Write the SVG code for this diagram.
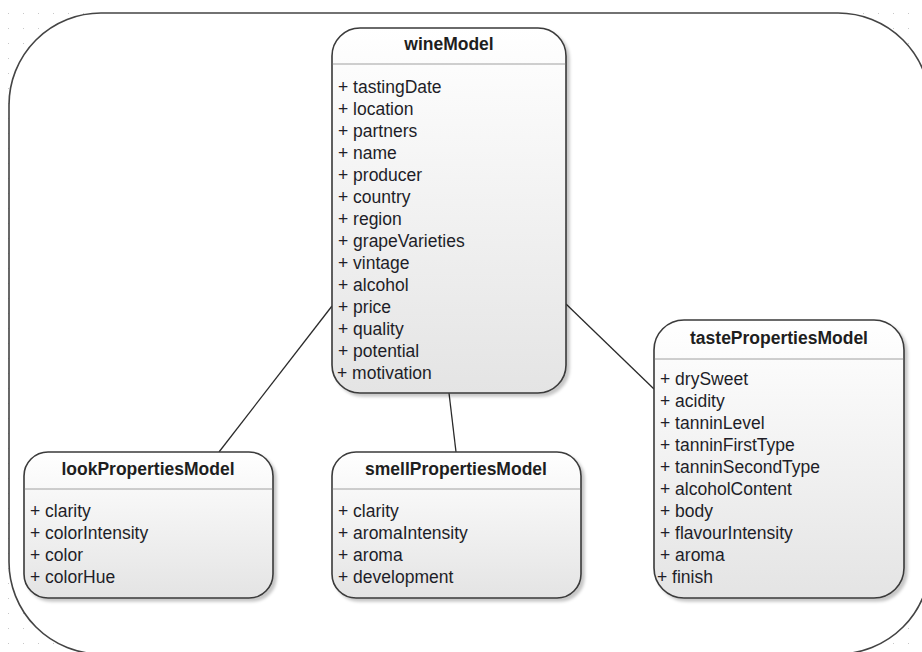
<svg xmlns="http://www.w3.org/2000/svg" width="922" height="652" viewBox="0 0 922 652">
  <defs>
    <pattern id="dots" x="8" y="13" width="15" height="15" patternUnits="userSpaceOnUse">
      <rect x="0" y="0" width="1" height="1" fill="#c8c8c8"/>
    </pattern>
    <linearGradient id="nodeFill" x1="0" y1="0" x2="0" y2="1">
      <stop offset="0" stop-color="#ffffff"/>
      <stop offset="1" stop-color="#e4e4e4"/>
    </linearGradient>
    <filter id="shadow" x="-10%" y="-10%" width="130%" height="130%">
      <feDropShadow dx="3" dy="3" stdDeviation="1.5" flood-color="#000" flood-opacity="0.22"/>
    </filter>
  </defs>
  <style>
    .box { fill: url(#nodeFill); stroke: #3a3a3a; stroke-width: 1.6; filter: url(#shadow); }
    .sep { stroke: #a0a0a0; stroke-width: 1; }
    .title { font-family: "Liberation Sans", Arial, sans-serif; font-size: 17.5px; font-weight: bold; fill: #1e1e1e; text-anchor: middle; }
    .attr { font-family: "Liberation Sans", Arial, sans-serif; font-size: 17.5px; fill: #1e1e28; }
    .conn { stroke: #2a2a2a; stroke-width: 1.3; fill: none; }
  </style>

  <rect x="0" y="0" width="922" height="652" fill="#ffffff"/>
  <rect x="0" y="0" width="922" height="652" fill="url(#dots)"/>
  <rect id="container" x="9" y="13" width="921" height="641" rx="92" ry="92" fill="#ffffff" stroke="#444" stroke-width="1.6"/>

  <g id="connectors">
    <line class="conn" x1="332" y1="306" x2="219" y2="452"/>
    <line class="conn" x1="449" y1="393" x2="456" y2="452"/>
    <line class="conn" x1="566" y1="304" x2="654" y2="389"/>
  </g>

  <g id="wineModel">
    <rect class="box" x="332" y="28" width="234" height="365" rx="28" ry="28"/>
    <line class="sep" x1="332.8" y1="64" x2="565.2" y2="64"/>
    <text class="title" x="449" y="50">wineModel</text>
    <text class="attr" x="338" y="93">+ tastingDate</text>
    <text class="attr" x="338" y="115">+ location</text>
    <text class="attr" x="338" y="137">+ partners</text>
    <text class="attr" x="338" y="159">+ name</text>
    <text class="attr" x="338" y="181">+ producer</text>
    <text class="attr" x="338" y="203">+ country</text>
    <text class="attr" x="338" y="225">+ region</text>
    <text class="attr" x="338" y="247">+ grapeVarieties</text>
    <text class="attr" x="338" y="269">+ vintage</text>
    <text class="attr" x="338" y="291">+ alcohol</text>
    <text class="attr" x="338" y="313">+ price</text>
    <text class="attr" x="338" y="335">+ quality</text>
    <text class="attr" x="338" y="357">+ potential</text>
    <text class="attr" x="337" y="379">+ motivation</text>
  </g>

  <g id="tastePropertiesModel">
    <rect class="box" x="654" y="320" width="250" height="278" rx="30" ry="30"/>
    <line class="sep" x1="654.8" y1="359" x2="903.2" y2="359"/>
    <text class="title" x="779" y="344">tastePropertiesModel</text>
    <text class="attr" x="660" y="385">+ drySweet</text>
    <text class="attr" x="660" y="407">+ acidity</text>
    <text class="attr" x="660" y="429">+ tanninLevel</text>
    <text class="attr" x="660" y="451">+ tanninFirstType</text>
    <text class="attr" x="660" y="473">+ tanninSecondType</text>
    <text class="attr" x="660" y="495">+ alcoholContent</text>
    <text class="attr" x="660" y="517">+ body</text>
    <text class="attr" x="660" y="539">+ flavourIntensity</text>
    <text class="attr" x="660" y="561">+ aroma</text>
    <text class="attr" x="657" y="583">+ finish</text>
  </g>

  <g id="lookPropertiesModel">
    <rect class="box" x="24" y="452" width="249" height="146" rx="24" ry="24"/>
    <line class="sep" x1="24.8" y1="489" x2="272.2" y2="489"/>
    <text class="title" x="148" y="475">lookPropertiesModel</text>
    <text class="attr" x="30" y="517">+ clarity</text>
    <text class="attr" x="30" y="539">+ colorIntensity</text>
    <text class="attr" x="30" y="561">+ color</text>
    <text class="attr" x="30" y="583">+ colorHue</text>
  </g>

  <g id="smellPropertiesModel">
    <rect class="box" x="332" y="452" width="249" height="146" rx="24" ry="24"/>
    <line class="sep" x1="332.8" y1="489" x2="580.2" y2="489"/>
    <text class="title" x="456" y="475">smellPropertiesModel</text>
    <text class="attr" x="338" y="517">+ clarity</text>
    <text class="attr" x="338" y="539">+ aromaIntensity</text>
    <text class="attr" x="338" y="561">+ aroma</text>
    <text class="attr" x="338" y="583">+ development</text>
  </g>
</svg>
